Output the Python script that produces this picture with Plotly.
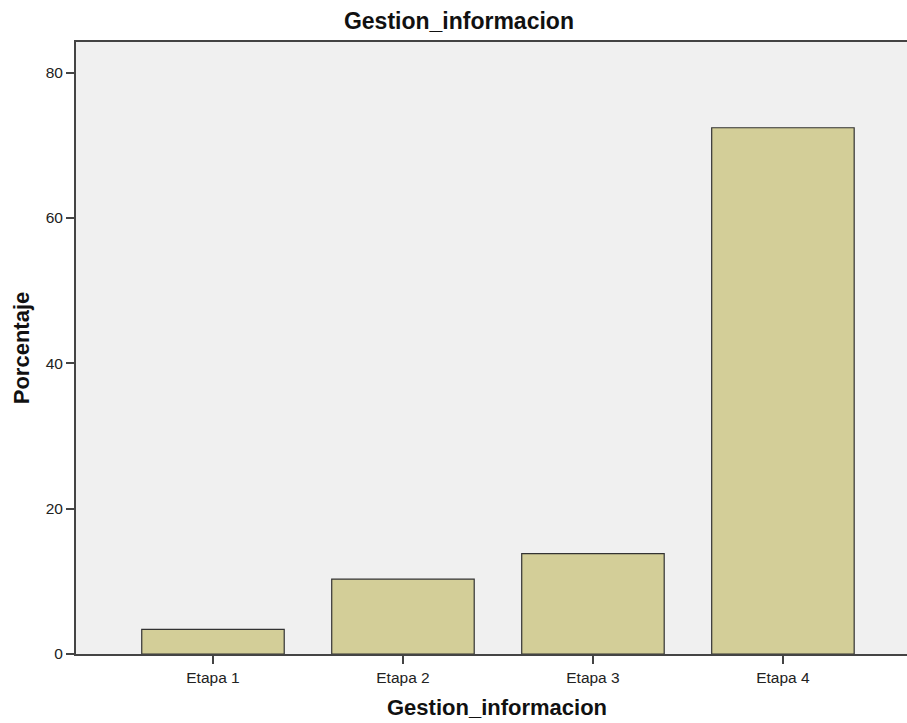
import plotly.graph_objects as go

categorias = ["Etapa 1", "Etapa 2", "Etapa 3", "Etapa 4"]
porcentajes = [3.4, 10.3, 13.8, 72.4]
y_ticks = [0, 20, 40, 60, 80]

fig = go.Figure(
    go.Bar(
        x=categorias,
        y=porcentajes,
        width=0.75,
        marker=dict(color="#D3CE98", line=dict(color="#333333", width=1.2)),
        hoverinfo="x+y",
    )
)

fig.update_layout(
    width=907,
    height=723,
    margin=dict(l=76, r=0, t=42, b=69),
    paper_bgcolor="white",
    plot_bgcolor="#F0F0F0",
    font=dict(family="Arial, Liberation Sans, sans-serif", size=15, color="#222"),
    title=dict(
        text="<b>Gestion_informacion</b>",
        x=0.506,
        xanchor="center",
        y=0.971,
        yanchor="middle",
        font=dict(size=23, color="#111"),
    ),
    showlegend=False,
)

fig.update_xaxes(
    type="category",
    range=[-0.721, 3.653],
    showline=True,
    linecolor="#444",
    linewidth=2,
    mirror=True,
    ticks="outside",
    ticklen=8,
    tickwidth=2,
    tickcolor="#444",
    showgrid=False,
    tickfont=dict(size=15.5, color="#222"),
)

fig.update_yaxes(
    range=[0, 84.2],
    tickvals=y_ticks,
    showline=True,
    linecolor="#444",
    linewidth=2,
    ticks="outside",
    ticklen=8,
    tickwidth=2,
    tickcolor="#444",
    showgrid=False,
    zeroline=False,
    tickfont=dict(size=15.5, color="#222"),
    title=dict(text="<b>Porcentaje</b>", font=dict(size=22, color="#111"), standoff=10),
)

# x title sits centred under the full (cropped) SPSS frame, a bit right of the visible domain
fig.add_annotation(
    text="<b>Gestion_informacion</b>",
    xref="paper",
    yref="paper",
    x=0.507,
    y=0,
    xanchor="center",
    yanchor="middle",
    yshift=-53,
    showarrow=False,
    font=dict(size=22, color="#111"),
)

# the page body has a default 8px margin; drop it so the figure fills the window
fig.write_html(
    "out.html",
    config={"displayModeBar": False},
    post_script="document.body.style.margin='0';document.body.style.overflow='hidden';",
)
